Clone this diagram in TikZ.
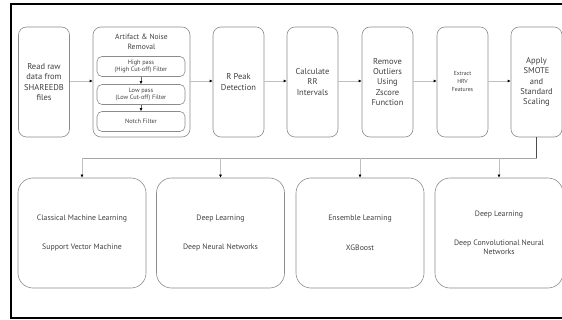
\documentclass[tikz,border=0pt]{standalone}
\usepackage{fontspec}
\setmainfont{PT Sans}
\usetikzlibrary{arrows.meta,positioning}
\tikzset{
  stage/.style={draw=black!45, line width=0.6pt, rounded corners=8pt,
    minimum width=51pt, minimum height=110pt, inner sep=1pt,
    align=center, text=black!75, font=\fontsize{8.5}{10.3}\selectfont},
  filterbox/.style={draw=black!45, line width=0.6pt, rounded corners=5pt,
    minimum width=88pt, minimum height=20pt, inner sep=1pt,
    align=center, text=black!75, font=\fontsize{6.3}{7.6}\selectfont},
  model/.style={draw=black!45, line width=0.6pt, rounded corners=15pt,
    minimum width=128pt, minimum height=110pt, inner sep=1pt,
    align=center, text=black!75, font=\fontsize{7.8}{9.6}\selectfont},
  flow/.style={draw=black!25, line width=0.8pt,
    -{Latex[length=3pt,width=3pt,fill=black,color=black]}},
  link/.style={draw=black!35, line width=0.8pt},
}
\begin{document}
\begin{tikzpicture}[x=1pt,y=-1pt]
\useasboundingbox (0,0) rectangle (562,320);
\clip (0,0) rectangle (562,320);
\fill[white] (0,0) rectangle (562,320);
% outer frame, open to the right
\draw[black, line width=2pt] (575,4) -- (11,4) -- (11,318) -- (575,318);

% processing pipeline
\node[stage] (read) at (44,82) {Read raw\\data from\\SHAREEDB\\files};
\node[stage, minimum width=97pt] (noise) at (141.5,82) {};
\node[text=black!75, align=center, font=\fontsize{7.6}{10.5}\selectfont] (noisetitle) at (141.5,42) {Artifact \& Noise\\Removal};
\node[filterbox] (high) at (141,66.5) {High pass\\(High Cut-off) Filter};
\node[filterbox] (low) at (141,94.5) {Low pass\\(Low Cut-off) Filter};
\node[filterbox] (notch) at (141,121.5) {Notch Filter};
\node[stage] (rpeak) at (238.5,82) {R Peak\\Detection};
\node[stage] (rr) at (312.5,82) {Calculate\\RR\\Intervals};
\node[stage] (outl) at (387.5,82) {Remove\\Outliers\\Using\\Zscore\\Function};
\node[stage, font=\fontsize{5.8}{8}\selectfont] (hrv) at (462.5,82) {Extract\\HRV\\Features};
\node[stage] (smote) at (536.5,82) {Apply\\SMOTE\\and\\Standard\\Scaling};

\draw[flow] (read.east |- 0,81) -- (noise.west |- 0,81);
\draw[flow] (noise.east |- 0,81) -- (rpeak.west |- 0,81);
\draw[flow] (rpeak.east |- 0,81) -- (rr.west |- 0,81);
\draw[flow] (rr.east |- 0,81) -- (outl.west |- 0,81);
\draw[flow] (outl.east |- 0,81) -- (hrv.west |- 0,81);
\draw[flow] (hrv.east |- 0,81) -- (smote.west |- 0,81);
\draw[flow, draw=black!60, line width=0.5pt] (high) -- (low);
\draw[flow, draw=black!60, line width=0.5pt] (low) -- (notch);

% model families
\node[model] (cml) at (82,233) {Classical Machine Learning\\[20pt]Support Vector Machine};
\node[model] (dnn) at (220.5,233) {Deep Learning\\[20pt]Deep Neural Networks};
\node[model] (ens) at (360,233) {Ensemble Learning\\[20pt]XGBoost};
\node[model] (cnn) at (499,233) {Deep Learning\\[19pt]Deep Convolutional Neural\\Networks};

% distribution bus
\coordinate (bus) at (536.5,158);
\draw[link, draw=black!70] (smote.south -| bus) -- (bus);
\draw[link] (bus) -- (cml.north |- bus);
\draw[flow] (cml.north |- bus) -- (cml.north);
\draw[flow] (dnn.north |- bus) -- (dnn.north);
\draw[flow] (ens.north |- bus) -- (ens.north);
\draw[flow] (cnn.north |- bus) -- (cnn.north);
\end{tikzpicture}
\end{document}
